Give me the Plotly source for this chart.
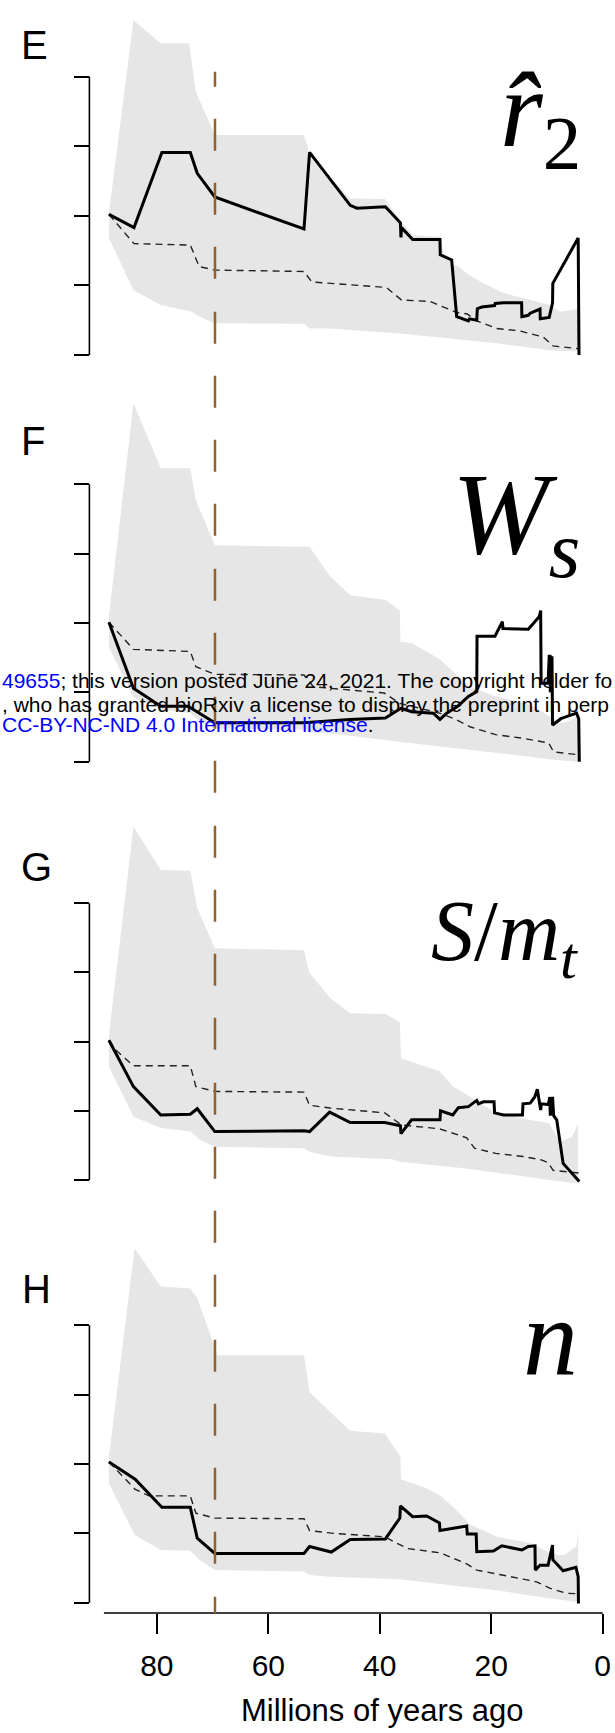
import plotly.graph_objects as go

FIG_W, FIG_H = 615, 1733

# ---------------- data (ages in Myr ago, values in axis-tick units) ----------------
# Panel E : r2
e_obs_age = [88.6, 84.1, 79.1, 74.0, 72.75, 69.6, 53.6, 52.6, 45.3, 44.1, 39.0, 36.3, 36.2, 36.1,
             34.1, 29.2, 29.15, 27.1, 26.2, 24.1, 23.9, 22.6, 22.5, 21.7, 19.4, 19.3, 17.8, 14.55,
             14.5, 13.35, 13.0, 11.25, 11.2, 9.6, 9.0, 8.95, 4.4, 4.25]
e_obs_val = [2.02, 1.83, 2.91, 2.91, 2.61, 2.27, 1.81, 2.91, 2.15, 2.11, 2.13, 1.90, 1.69, 1.83,
             1.66, 1.66, 1.44, 1.365, 0.55, 0.49, 0.52, 0.50, 0.665, 0.69, 0.71, 0.74, 0.75, 0.75,
             0.55, 0.57, 0.60, 0.66, 0.52, 0.54, 0.75, 1.03, 1.68, 0.0]
e_null_age = [88.6, 84.1, 74.0, 72.4, 69.6, 53.6, 52.2, 38.8, 36.1, 31.0, 26.2, 24.3, 22.6, 19.0,
              15.1, 10.7, 8.9, 4.2]
e_null_val = [2.02, 1.60, 1.58, 1.27, 1.22, 1.20, 1.05, 0.97, 0.79, 0.77, 0.61, 0.59, 0.49, 0.38,
              0.35, 0.26, 0.13, 0.09]
e_hi_age = [88.6, 84.2, 79.3, 74.2, 73.0, 69.6, 53.6, 52.6, 48.9, 45.3, 39.1, 36.4, 34.1, 29.2,
            28.5, 27.0, 25.9, 24.0, 21.4, 17.8, 13.0, 9.5, 7.7, 4.4]
e_hi_val = [2.04, 4.81, 4.48, 4.48, 3.78, 3.16, 3.16, 2.90, 2.55, 2.25, 2.24, 1.94, 1.72, 1.70,
            1.45, 1.30, 1.27, 1.15, 1.03, 0.89, 0.79, 0.72, 0.62, 0.66]
e_lo_age = [88.6, 84.2, 79.3, 73.7, 72.3, 69.6, 53.6, 52.6, 48.9, 36.4, 26.5, 19.0, 9.5, 4.4]
e_lo_val = [1.68, 0.93, 0.72, 0.62, 0.55, 0.455, 0.45, 0.38, 0.38, 0.31, 0.23, 0.17, 0.07, 0.05]

# Panel F : Ws
f_obs_age = [88.6, 84.2, 79.3, 74.4, 69.6, 53.6, 45.4, 39.0, 36.2, 34.3, 30.4, 29.2, 28.0, 26.0,
             24.1, 22.6, 22.55, 19.33, 18.0, 17.9, 13.35, 11.4, 11.13, 11.05, 9.8, 9.6, 9.45,
             9.4, 9.2, 9.1, 9.0, 7.5, 6.5, 4.7, 4.3, 4.2]
f_obs_val = [2.01, 1.06, 0.80, 0.80, 0.56, 0.56, 0.61, 0.63, 0.77, 0.72, 0.70, 0.61, 0.70, 0.80,
             0.94, 1.01, 1.81, 1.81, 2.02, 1.92, 1.91, 2.09, 2.18, 1.13, 1.13, 1.52, 1.52,
             1.00, 1.50, 1.50, 0.53, 0.62, 0.65, 0.70, 0.62, 0.0]
f_null_age = [88.6, 84.2, 74.0, 73.0, 69.6, 53.6, 51.9, 39.2, 36.4, 29.3, 26.8, 23.7, 19.2, 14.5,
              9.7, 8.8, 4.2]
f_null_val = [2.01, 1.62, 1.59, 1.37, 1.26, 1.25, 1.08, 0.99, 0.84, 0.70, 0.625, 0.50, 0.39, 0.34,
              0.27, 0.14, 0.10]
f_hi_age = [88.6, 84.2, 79.3, 74.0, 73.0, 69.6, 52.6, 49.0, 45.3, 38.9, 36.4, 36.3, 34.3, 29.3,
            26.4, 23.7, 19.5, 13.0, 9.6, 7.5, 5.0, 4.4]
f_hi_val = [2.10, 5.17, 4.23, 4.23, 3.77, 3.12, 3.10, 2.68, 2.40, 2.33, 2.18, 1.73, 1.71, 1.48,
            1.27, 1.08, 0.95, 0.82, 0.66, 0.55, 0.62, 0.75]
f_lo_age = [88.6, 84.2, 79.3, 74.0, 72.3, 69.6, 53.6, 52.5, 48.9, 37.0, 26.2, 13.0, 9.5, 4.4]
f_lo_val = [1.65, 0.93, 0.75, 0.70, 0.58, 0.48, 0.46, 0.42, 0.41, 0.29, 0.19, 0.07, 0.03, 0.0]

# Panel G : S/mt
g_obs_age = [88.6, 84.2, 79.3, 74.0, 72.75, 69.6, 53.6, 52.6, 49.0, 45.3, 39.1, 36.3, 36.2, 34.3,
             29.2, 29.1, 26.9, 25.9, 24.1, 22.6, 22.3, 21.4, 19.5, 19.4, 17.8, 14.4, 14.3, 13.0,
             12.2, 11.73, 11.13, 11.0, 9.76, 9.5, 9.4, 9.0, 8.8, 8.25, 7.1, 4.2]
g_obs_val = [2.02, 1.35, 0.94, 0.95, 1.03, 0.70, 0.71, 0.70, 0.98, 0.83, 0.83, 0.785, 0.67, 0.87,
             0.87, 1.00, 0.94, 1.045, 1.06, 1.15, 1.10, 1.13, 1.13, 0.97, 0.94, 0.94, 1.10, 1.11,
             1.20, 1.31, 1.01, 1.10, 1.09, 1.20, 0.93, 1.20, 0.93, 0.87, 0.24, -0.02]
g_null_age = [88.6, 87.4, 84.2, 74.0, 73.0, 69.6, 53.6, 52.6, 48.9, 39.1, 36.1, 29.3, 24.4, 23.0,
              19.2, 14.3, 11.0, 9.8, 8.9, 4.2]
g_null_val = [2.02, 1.88, 1.65, 1.65, 1.35, 1.28, 1.27, 1.08, 1.04, 0.97, 0.795, 0.74, 0.61, 0.46,
              0.385, 0.34, 0.29, 0.25, 0.14, 0.10]
g_hi_age = [88.6, 84.2, 79.3, 74.0, 72.75, 69.6, 53.6, 52.6, 48.9, 45.3, 39.0, 36.4, 36.2, 33.6,
            29.3, 26.8, 24.4, 19.5, 14.5, 13.0, 9.6, 7.7, 5.5, 4.4]
g_hi_val = [2.10, 5.11, 4.48, 4.47, 3.93, 3.35, 3.32, 2.99, 2.63, 2.41, 2.40, 2.28, 1.76, 1.69,
            1.57, 1.35, 1.23, 0.99, 0.89, 0.87, 0.82, 0.55, 0.62, 0.82]
g_lo_age = [88.6, 84.2, 79.3, 74.0, 72.3, 69.6, 53.6, 52.6, 48.9, 37.8, 36.4, 25.0, 19.0, 9.5, 4.4]
g_lo_val = [1.64, 0.915, 0.75, 0.70, 0.58, 0.48, 0.46, 0.41, 0.34, 0.30, 0.265, 0.17, 0.10, 0.0,
            -0.05]

# Panel H : n
h_obs_age = [88.6, 83.9, 79.1, 74.0, 72.75, 69.6, 53.6, 52.6, 48.7, 45.3, 39.0, 36.4, 36.3, 34.1,
             31.6, 29.3, 29.2, 24.4, 24.3, 22.7, 22.6, 19.6, 18.1, 14.5, 13.35, 12.15, 12.1,
             11.25, 9.8, 9.0, 8.95, 7.1, 4.8, 4.4, 4.35]
h_obs_val = [2.03, 1.78, 1.375, 1.375, 0.93, 0.71, 0.71, 0.81, 0.73, 0.91, 0.92, 1.22, 1.395, 1.24,
             1.25, 1.15, 1.04, 1.105, 0.99, 0.99, 0.735, 0.745, 0.82, 0.76, 0.81, 0.82, 0.47,
             0.54, 0.54, 0.83, 0.62, 0.46, 0.51, 0.375, -0.01]
h_null_age = [88.6, 83.9, 81.4, 74.0, 73.0, 69.6, 53.6, 52.6, 48.3, 39.1, 37.0, 35.0, 29.2, 24.4,
              22.6, 19.2, 14.25, 11.85, 9.5, 6.5, 4.4]
h_null_val = [2.03, 1.635, 1.54, 1.54, 1.29, 1.22, 1.21, 1.04, 1.00, 0.95, 0.86, 0.78, 0.72, 0.56,
              0.47, 0.42, 0.34, 0.30, 0.21, 0.135, 0.13]
h_hi_age = [88.6, 84.0, 79.3, 74.0, 72.75, 69.6, 69.1, 53.6, 52.6, 48.9, 45.3, 39.1, 36.3, 36.2,
            31.6, 29.2, 26.3, 23.8, 19.0, 13.0, 9.2, 7.0, 4.7, 4.4]
h_hi_val = [2.10, 5.11, 4.56, 4.53, 4.39, 3.67, 3.57, 3.57, 3.04, 2.75, 2.48, 2.44, 2.11, 1.78,
            1.65, 1.55, 1.34, 1.13, 0.95, 0.86, 0.71, 0.68, 0.81, 1.05]
h_lo_age = [88.6, 84.0, 79.3, 74.0, 72.3, 69.6, 53.6, 52.6, 48.9, 36.4, 25.0, 19.0, 9.5, 4.4]
h_lo_val = [1.72, 0.976, 0.76, 0.75, 0.615, 0.47, 0.45, 0.40, 0.375, 0.34, 0.23, 0.18, 0.06, 0.01]

x_ticks = [80, 60, 40, 20, 0]
y_ticks = [0, 1, 2, 3, 4]
boundary_age = 69.57
panel_letters = ["E", "F", "G", "H"]
panel_symbols = ["<i>r\u0302</i><sub>2</sub>", "<i>W</i><sub><i>s</i></sub>",
                 "<i>S</i>/<i>m</i><sub><i>t</i></sub>", "<i>n</i>"]

# ---------------- geometry helpers ----------------
def px_x(p):
    return p / FIG_W


def px_y(p):
    return 1 - p / FIG_H


# x scale: 0 Myr at 602.7 px, 5.573 px per Myr
X_RANGE = [602.7 / 5.573, -(FIG_W - 602.7) / 5.573]
YAXIS_PX = 89.4
XAXIS_PX = 1613

# per panel: pixel row of the 0 tick, pixels per tick unit, top of y range
geom = [(355.0, 69.6, 4.95), (761.7, 69.35, 5.3), (1180.0, 69.2, 5.3), (1602.7, 69.35, 5.3)]
Y_BOTTOM = -0.3

series = [
    (e_obs_age, e_obs_val, e_null_age, e_null_val, e_hi_age, e_hi_val, e_lo_age, e_lo_val),
    (f_obs_age, f_obs_val, f_null_age, f_null_val, f_hi_age, f_hi_val, f_lo_age, f_lo_val),
    (g_obs_age, g_obs_val, g_null_age, g_null_val, g_hi_age, g_hi_val, g_lo_age, g_lo_val),
    (h_obs_age, h_obs_val, h_null_age, h_null_val, h_hi_age, h_hi_val, h_lo_age, h_lo_val),
]

fig = go.Figure()
layout = dict(
    width=FIG_W, height=FIG_H, margin=dict(l=0, r=0, t=0, b=0, pad=0),
    paper_bgcolor="white", plot_bgcolor="rgba(0,0,0,0)", showlegend=False,
    font=dict(family="Liberation Sans, Arial, sans-serif", color="black"),
)
shapes = []
annotations = []

for i, (obs_a, obs_v, nul_a, nul_v, hi_a, hi_v, lo_a, lo_v) in enumerate(series):
    n = "" if i == 0 else str(i + 1)
    xa, ya = "x" + n, "y" + n
    zero_px, unit_px, y_top = geom[i]
    dom_top = zero_px - y_top * unit_px
    dom_bot = zero_px - Y_BOTTOM * unit_px

    # null envelope
    fig.add_trace(go.Scatter(
        x=hi_a + lo_a[::-1], y=hi_v + lo_v[::-1], mode="lines", fill="toself",
        fillcolor="#e6e6e6", line=dict(width=0, color="#e6e6e6"),
        xaxis=xa, yaxis=ya, hoverinfo="skip"))
    # null median
    fig.add_trace(go.Scatter(
        x=nul_a, y=nul_v, mode="lines", line=dict(color="#222222", width=1.4, dash="7px,5px"),
        xaxis=xa, yaxis=ya))
    # observed trajectory
    fig.add_trace(go.Scatter(
        x=obs_a, y=obs_v, mode="lines", line=dict(color="black", width=3),
        xaxis=xa, yaxis=ya))

    layout["xaxis" + n] = dict(domain=[0, 1], range=X_RANGE, anchor=ya, visible=False,
                               showgrid=False, zeroline=False)
    layout["yaxis" + n] = dict(
        domain=[px_y(dom_bot), px_y(dom_top)], range=[Y_BOTTOM, y_top], anchor="free",
        position=px_x(YAXIS_PX), side="left", tickvals=y_ticks, showticklabels=False,
        ticks="outside", ticklen=15, tickwidth=1.6, tickcolor="black",
        showgrid=False, zeroline=False, showline=False)

    # y axis line spanning the tick range only
    shapes.append(dict(type="line", xref="paper", yref=ya, x0=px_x(YAXIS_PX), x1=px_x(YAXIS_PX),
                       y0=0, y1=4, line=dict(color="black", width=1.6)))

# bottom time axis
layout["xaxis4"].update(
    visible=True, anchor="free", position=px_y(XAXIS_PX), tickvals=x_ticks,
    ticktext=[str(v) for v in x_ticks], ticks="outside", ticklen=20, tickwidth=1.6,
    tickcolor="black", showline=False, tickfont=dict(size=30, color="black"),
    ticklabelstandoff=6)
shapes.append(dict(type="line", xref="x4", yref="paper", x0=89.5, x1=0,
                   y0=px_y(XAXIS_PX), y1=px_y(XAXIS_PX), line=dict(color="black", width=1.6)))

# K-Pg boundary marker across all panels (dash phase starts part-way into a dash)
top_px = 71.7
pattern = ["15px"]
length = 15
k = 0
while length < XAXIS_PX - top_px:
    gap = 33 if k % 4 == 3 else 32
    pattern += [f"{gap}px", "32px"]
    length += gap + 32
    k += 1
shapes.append(dict(type="line", xref="x4", yref="paper", x0=boundary_age, x1=boundary_age,
                   y0=px_y(top_px), y1=px_y(XAXIS_PX),
                   line=dict(color="#93602f", width=2.5, dash=",".join(pattern))))

# axis title
annotations.append(dict(text="Millions of years ago", xref="paper", yref="paper",
                        x=px_x(382), y=px_y(1710), xanchor="center", yanchor="middle",
                        showarrow=False, font=dict(size=31, color="black")))

# panel letters
for letter, (cx, cy) in zip(panel_letters, [(34.7, 45.5), (33, 441), (36, 867), (36, 1289)]):
    annotations.append(dict(text=letter, xref="paper", yref="paper", x=px_x(cx), y=px_y(cy),
                            xanchor="center", yanchor="middle", showarrow=False,
                            font=dict(size=40, color="black")))

# parameter symbols
sym_pos = [(583, 117, 110), (582, 522, 116), (580, 937, 86), (580, 1338, 110)]
for sym, (rx, cy, size) in zip(panel_symbols, sym_pos):
    annotations.append(dict(text=sym, xref="paper", yref="paper", x=px_x(rx), y=px_y(cy),
                            xanchor="right", yanchor="middle", showarrow=False,
                            font=dict(size=size, color="black",
                                      family="Liberation Serif, Times New Roman, serif")))

# preprint header lines running across panel F
blue = "#0000ff"
header = [
    (f"<span style='color:{blue}'>49655</span>; this version posted June 24, 2021. "
     "The copyright holder fo", 681),
    (", who has granted bioRxiv a license to display the preprint in perp", 704),
    (f"<span style='color:{blue}'>CC-BY-NC-ND 4.0 International license</span>.", 724.5),
]
for txt, cy in header:
    annotations.append(dict(text=txt, xref="paper", yref="paper", x=0, y=px_y(cy),
                            xanchor="left", yanchor="middle", showarrow=False, align="left",
                            font=dict(size=21, color="black")))

layout["shapes"] = shapes
layout["annotations"] = annotations
fig.update_layout(**layout)

fig.write_html("out.html")
